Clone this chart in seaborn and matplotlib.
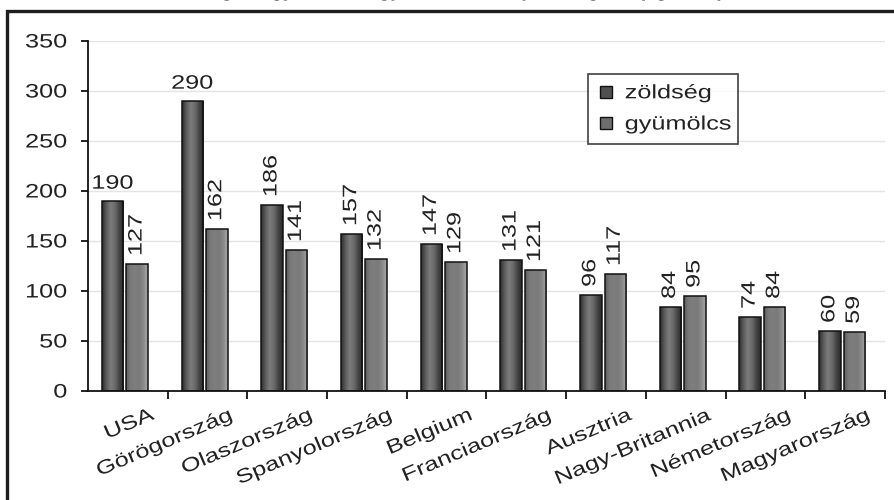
import numpy as np
import pandas as pd
import matplotlib
matplotlib.use("Agg")
import matplotlib.pyplot as plt
import matplotlib.transforms as mtransforms
from matplotlib.lines import Line2D
from matplotlib.patches import Rectangle
from matplotlib.colors import LinearSegmentedColormap
from matplotlib.patheffects import AbstractPathEffect
import seaborn as sns

countries = ["USA", "Görögország", "Olaszország", "Spanyolország", "Belgium",
             "Franciaország", "Ausztria", "Nagy-Britannia", "Németország", "Magyarország"]
zoldseg = [190, 290, 186, 157, 147, 131, 96, 84, 74, 60]
gyumolcs = [127, 162, 141, 132, 129, 121, 117, 95, 84, 59]
series = ["zöldség", "gyümölcs"]
title = "Zöldség- és gyümölcsfogyasztás néhány országban (kg/fő/év)"

df = pd.DataFrame({
    "ország": countries * 2,
    "sorozat": [series[0]] * len(countries) + [series[1]] * len(countries),
    "érték": zoldseg + gyumolcs,
})


class Stretch(AbstractPathEffect):
    """Widen glyphs along the text baseline around a pivot (0=start, 1=end)."""

    def __init__(self, sx=1.3, pivot=0.5):
        super().__init__()
        self.sx = sx
        self.pivot = pivot

    def draw_path(self, renderer, gc, tpath, affine, rgbFace=None):
        ext = tpath.get_extents()
        px = ext.x0 + self.pivot * (ext.x1 - ext.x0)
        pre = mtransforms.Affine2D().translate(-px, 0).scale(self.sx, 1).translate(px, 0)
        renderer.draw_path(gc, tpath, pre + affine, rgbFace)


SX = 1.3
FS = 14
INK = "#222222"

sns.set_theme(style="white")
plt.rcParams["font.family"] = ["Liberation Sans", "DejaVu Sans"]

fig = plt.figure(figsize=(8.95, 5.0), dpi=100)
ax = fig.add_axes([88 / 895, 1 - 391 / 500, (885 - 88) / 895, (391 - 41) / 500])

palette = {"zöldség": "#5a5a5a", "gyümölcs": "#7a7a7a"}
sns.barplot(data=df, x="ország", y="érték", hue="sorozat", order=countries,
            hue_order=series, palette=palette, width=0.615, gap=0.12,
            edgecolor="#111111", linewidth=1.1, ax=ax, legend=False, saturation=1)

# groups sit slightly left of the category centre
shift = mtransforms.ScaledTranslation(-3 / 100, 0, fig.dpi_scale_trans)

# cylinder-like shading inside each bar
grad_dark = LinearSegmentedColormap.from_list(
    "g1", ["#2e2e2e", "#5c5c5c", "#7c7c7c", "#6a6a6a", "#444444", "#2a2a2a"])
grad_light = LinearSegmentedColormap.from_list(
    "g2", ["#5e5e5e", "#7a7a7a", "#7e7e7e", "#7a7a7a", "#8a8a8a", "#a8a8a8"])
xs = np.linspace(0, 1, 64).reshape(1, -1)
n = len(countries)
bars = list(ax.patches[: 2 * n])
for i, patch in enumerate(bars):
    patch.set_transform(ax.transData + shift)
    x0, y0 = patch.get_x(), patch.get_y()
    w, h = patch.get_width(), patch.get_height()
    cmap = grad_dark if i < n else grad_light
    im = ax.imshow(xs, cmap=cmap, aspect="auto", extent=(x0, x0 + w, y0, y0 + h),
                   zorder=patch.get_zorder() - 0.1, interpolation="bicubic")
    im.set_transform(ax.transData + shift)
    im.set_clip_path(patch)
    patch.set_facecolor("none")

ax.set_xlim(-0.5, n - 0.5)
ax.set_ylim(0, 350)
ax.set_yticks(np.arange(0, 351, 50))
ax.yaxis.grid(True, color="#e4e4e4", linewidth=1.0)
ax.set_axisbelow(True)
ax.set_xlabel("")
ax.set_ylabel("")

for side in ("top", "right"):
    ax.spines[side].set_visible(False)
for side in ("left", "bottom"):
    ax.spines[side].set_color("#111111")
    ax.spines[side].set_linewidth(1.3)

ax.tick_params(axis="y", direction="out", length=5, width=1.3, color="#111111",
               labelsize=FS, labelcolor=INK, pad=10, left=True)
ax.set_xticks(np.arange(n))
ax.set_xticks(np.arange(n) + 0.5, minor=True)
ax.tick_params(axis="x", which="major", length=0, labelsize=FS, labelcolor=INK)
ax.tick_params(axis="x", which="minor", direction="out", length=6, width=1.3,
               color="#111111", bottom=True)

for lab in ax.get_yticklabels():
    lab.set_path_effects([Stretch(SX, 1.0)])

offset = mtransforms.ScaledTranslation(22 / 100, -11 / 100, fig.dpi_scale_trans)
for lab in ax.get_xticklabels():
    lab.set_rotation(23)
    lab.set_ha("right")
    lab.set_va("top")
    lab.set_rotation_mode("anchor")
    lab.set_transform(lab.get_transform() + offset)
    lab.set_path_effects([Stretch(SX, 1.0)])

# value labels: the two tallest leading bars are written flat, the rest upright
flat = {("zöldség", "USA"), ("zöldség", "Görögország")}
for name, group, vals in ((series[0], bars[:n], zoldseg), (series[1], bars[n:], gyumolcs)):
    for bar, c, v in zip(group, countries, vals):
        cx = bar.get_x() + bar.get_width() / 2
        if (name, c) in flat:
            t = ax.annotate(f"{v}", (cx, v), xytext=(-2.2, 6), textcoords="offset points",
                            ha="center", va="bottom", fontsize=FS, color=INK)
            t.set_path_effects([Stretch(SX, 0.5)])
        else:
            t = ax.annotate(f"{v}", (cx, v), xytext=(-2.2, 6), textcoords="offset points",
                            ha="center", va="bottom", rotation=90, fontsize=FS,
                            color=INK)
            t.set_path_effects([Stretch(SX, 0.0)])

handles = [
    Line2D([], [], linestyle="none", marker="s", markersize=9,
           markerfacecolor="#505050", markeredgecolor="#111111", markeredgewidth=1),
    Line2D([], [], linestyle="none", marker="s", markersize=9,
           markerfacecolor="#6e6e6e", markeredgecolor="#111111", markeredgewidth=1),
]
leg = ax.legend(handles, series, loc="upper left", mode="expand",
                bbox_to_anchor=((588 - 88) / 797, (391 - 157) / 350, 150 / 797, 83 / 350),
                frameon=True, fancybox=False, fontsize=FS, handlelength=0.8,
                handletextpad=0.55, borderpad=0.55, labelspacing=0.7,
                borderaxespad=0)
leg.get_frame().set_edgecolor("#111111")
leg.get_frame().set_linewidth(1.2)
for t in leg.get_texts():
    t.set_color(INK)
    t.set_path_effects([Stretch(SX, 0.0)])

# outer frame of the figure panel; its heading runs past the top edge
fig.patches.append(Rectangle((7 / 895, -0.1), 1.2, 1 - 11 / 500 + 0.1,
                             transform=fig.transFigure, fill=False,
                             edgecolor="#1e1e1e", linewidth=2.4, zorder=0))
tt = fig.text(440 / 895, 1 + 3 / 500, title, ha="center", va="baseline",
              fontsize=12, fontweight="bold", color="#111111")
tt.set_path_effects([Stretch(1.15, 0.5)])

fig.savefig("out.png", dpi=100)
